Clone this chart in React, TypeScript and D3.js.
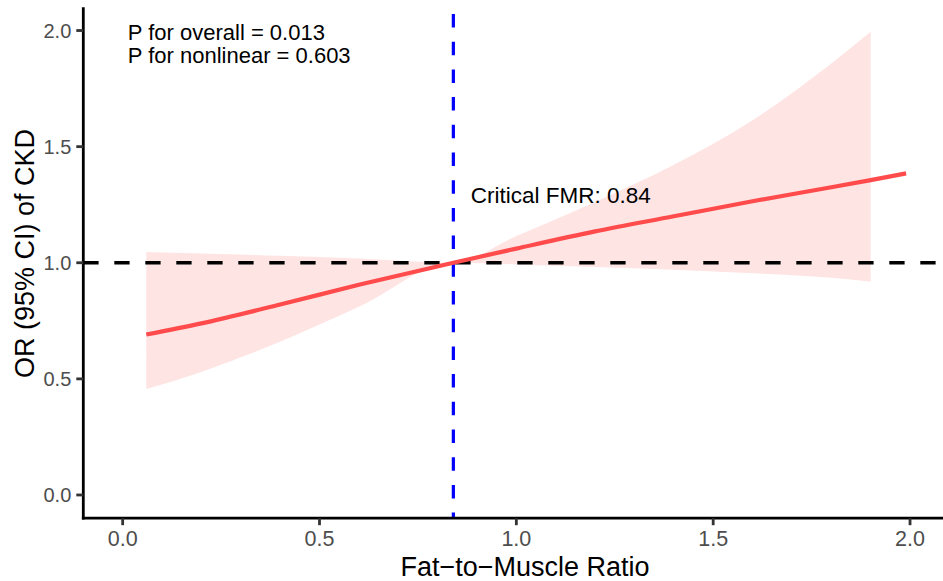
import React from 'react';
import * as d3 from 'd3';

const WIDTH = 943;
const HEIGHT = 581;

// spline estimate of the odds ratio
const lineFmr = [0.06, 0.2, 0.4, 0.6, 0.84, 1.0, 1.2, 1.4, 1.6, 1.8, 1.9, 1.99];
const lineOr = [0.691, 0.739, 0.82, 0.905, 1.0, 1.061, 1.135, 1.2, 1.265, 1.325, 1.356, 1.385];

// 95% confidence band
const bandFmr = [0.06, 0.2, 0.4, 0.6, 0.84, 1.0, 1.2, 1.4, 1.6, 1.8, 1.9];
const bandLower = [0.456, 0.53, 0.66, 0.81, 1.0, 0.993, 0.982, 0.97, 0.955, 0.935, 0.918];
const bandUpper = [1.046, 1.04, 1.03, 1.018, 1.0, 1.115, 1.262, 1.422, 1.614, 1.858, 1.995];

const xTicks = [0, 0.5, 1, 1.5, 2];
const yTicks = [0, 0.5, 1, 1.5, 2];

const criticalFmr = 0.84;
const refOr = 1;
const pTexts = ['P for overall = 0.013', 'P for nonlinear = 0.603'];

const FONT = '"Liberation Sans", Arial, Helvetica, sans-serif';

export default function App () {
  const x = d3.scaleLinear().domain([-0.1, 2.1]).range([83.3, 949.4]);
  const y = d3.scaleLinear().domain([-0.1, 2.1]).range([518.2, 7.3]);

  const band = bandFmr.map((f, i) => ({ f, lo: bandLower[i], hi: bandUpper[i] }));
  const pts = lineFmr.map((f, i) => ({ f, v: lineOr[i] }));

  const area = d3.area<{ f: number, lo: number, hi: number }>()
    .x(d => x(d.f))
    .y0(d => y(d.lo))
    .y1(d => y(d.hi))
    .curve(d3.curveMonotoneX);

  const line = d3.line<{ f: number, v: number }>()
    .x(d => x(d.f))
    .y(d => y(d.v))
    .curve(d3.curveMonotoneX);

  const [left, right] = [x.range()[0], WIDTH];
  const [bottom, top] = y.range();

  return (
    <svg
      width={WIDTH}
      height={HEIGHT}
      style={{ position: 'absolute', left: 0, top: 0, background: '#fff' }}
      fontFamily={FONT}
    >
      <path d={area(band) || ''} fill="#FFE4E4" />
      <line
        x1={left} x2={right} y1={y(refOr)} y2={y(refOr)}
        stroke="#000" strokeWidth={3.4} strokeDasharray="15.3 15.7"
      />
      <line
        x1={x(criticalFmr)} x2={x(criticalFmr)} y1={top} y2={bottom}
        stroke="#0000FF" strokeWidth={3.2} strokeDasharray="13.5 14.2" strokeDashoffset={-6.7}
      />
      <path d={line(pts) || ''} fill="none" stroke="#FF4B4B" strokeWidth={4.2} />

      {/* axes */}
      <line x1={left} x2={left} y1={top} y2={bottom + 1.4} stroke="#000" strokeWidth={2.8} />
      <line x1={left - 1.4} x2={right} y1={bottom} y2={bottom} stroke="#000" strokeWidth={2.8} />
      {yTicks.map(t => (
        <g key={'y' + t}>
          <line x1={left - 7} x2={left} y1={y(t)} y2={y(t)} stroke="#333" strokeWidth={2.8} />
          <text x={left - 12} y={y(t) + 7.3} textAnchor="end" fontSize={20} fill="#4D4D4D">
            {t.toFixed(1)}
          </text>
        </g>
      ))}
      {xTicks.map(t => (
        <g key={'x' + t}>
          <line x1={x(t)} x2={x(t)} y1={bottom} y2={bottom + 7} stroke="#333" strokeWidth={2.8} />
          <text x={x(t)} y={bottom + 28} textAnchor="middle" fontSize={21.5} fill="#4D4D4D">
            {t.toFixed(1)}
          </text>
        </g>
      ))}

      {/* titles */}
      <text x={525} y={575.5} textAnchor="middle" fontSize={27} fill="#000">
        {'Fat\u2212to\u2212Muscle Ratio'}
      </text>
      <text
        transform={`translate(34,${253.5}) rotate(-90)`}
        textAnchor="middle" fontSize={27} fill="#000"
      >
        OR (95% CI) of CKD
      </text>

      {/* annotations */}
      {pTexts.map((s, i) => (
        <text key={s} x={x(0.013)} y={39.5 + i * 23} fontSize={22} fill="#000">{s}</text>
      ))}
      <text x={x(0.884)} y={202.7} fontSize={22.5} fill="#000">
        Critical FMR: {criticalFmr}
      </text>
    </svg>
  );
}
